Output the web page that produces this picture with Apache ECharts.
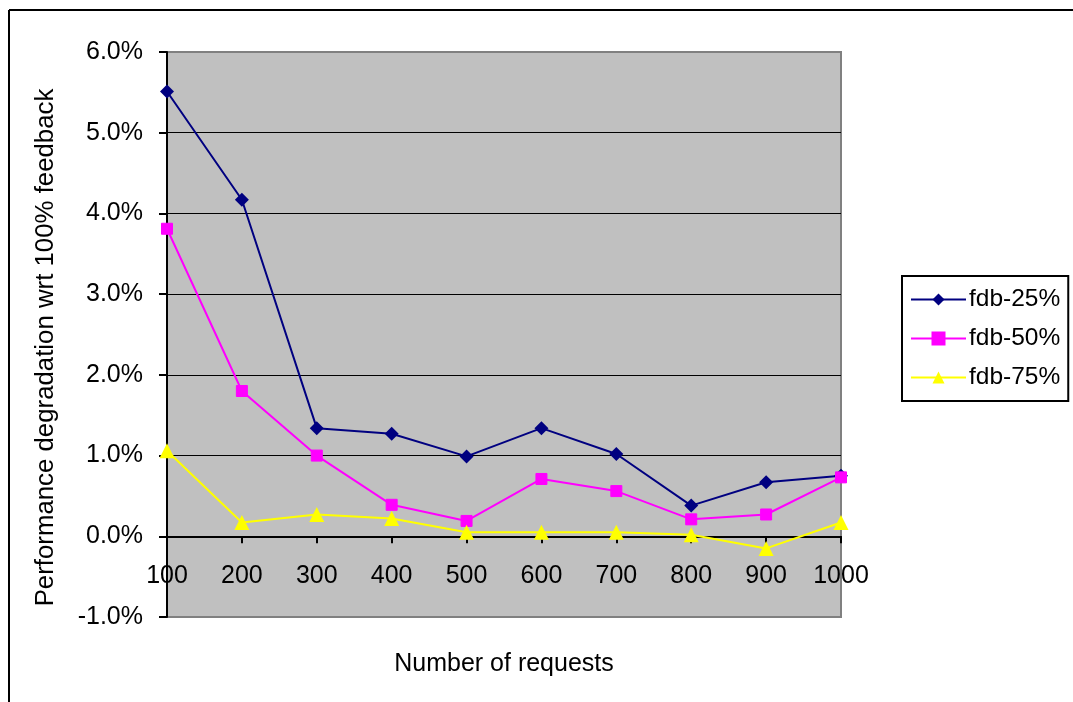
<!DOCTYPE html>
<html>
<head>
<meta charset="utf-8">
<script src="https://cdn.jsdelivr.net/npm/echarts@6/dist/echarts.min.js"></script>
<style>
  html, body { margin: 0; padding: 0; background: #fff; }
  #chart { width: 1073px; height: 702px; }
</style>
</head>
<body>
<div id="chart"></div>
<script>
// Number of requests (x categories)
const requests = ['100', '200', '300', '400', '500', '600', '700', '800', '900', '1000'];

// Performance degradation relative to 100% feedback, in percent
const fdb25 = [5.51, 4.17, 1.34, 1.27, 0.99, 1.34, 1.02, 0.38, 0.67, 0.75];
const fdb50 = [3.81, 1.80, 1.00, 0.39, 0.19, 0.71, 0.56, 0.21, 0.27, 0.73];
const fdb75 = [1.06, 0.17, 0.27, 0.22, 0.05, 0.05, 0.05, 0.02, -0.15, 0.17];

const seriesNames = ['fdb-25%', 'fdb-50%', 'fdb-75%'];
const yTitle = 'Performance degradation wrt 100% feedback';
const xTitle = 'Number of requests';

const FONT = 'Liberation Sans, Arial, sans-serif';

const chart = echarts.init(document.getElementById('chart'), null, { renderer: 'canvas' });

const option = {
  backgroundColor: '#ffffff',
  animation: false,
  textStyle: { fontFamily: FONT },
  graphic: [
    // frame around the chart area (top and left edges)
    { type: 'line', shape: { x1: 9, y1: 10, x2: 1073, y2: 10 }, style: { stroke: '#000', lineWidth: 2 } },
    { type: 'line', shape: { x1: 9, y1: 10, x2: 9, y2: 702 }, style: { stroke: '#000', lineWidth: 2 } }
  ],
  grid: {
    left: 167, top: 52, width: 674, height: 565,
    outerBoundsMode: 'none',
    containLabel: false,
    show: true,
    backgroundColor: '#C0C0C0',
    borderColor: '#808080',
    borderWidth: 2
  },
  legend: {
    orient: 'vertical',
    left: 902, top: 276,
    width: 167,
    padding: [11, 8, 11, 8],
    itemGap: 14,
    itemWidth: 55,
    itemHeight: 15,
    borderColor: '#000',
    borderWidth: 2,
    backgroundColor: '#fff',
    textStyle: { fontSize: 24.5, color: '#000', fontFamily: FONT, padding: [0, 0, 0, -2] },
    data: seriesNames
  },
  xAxis: {
    type: 'category',
    data: requests,
    boundaryGap: false,
    name: xTitle,
    nameLocation: 'middle',
    nameGap: 35,
    nameTextStyle: { fontSize: 25, color: '#000', fontFamily: FONT },
    axisLine: { onZero: true, lineStyle: { color: '#000', width: 2 } },
    axisTick: { show: true, inside: false, length: 7, interval: 0, lineStyle: { color: '#000', width: 2 } },
    // labels sit just under the zero line, inside the plot
    axisLabel: { interval: 0, margin: -53, fontSize: 25, color: '#000', fontFamily: FONT },
    splitLine: { show: false }
  },
  yAxis: {
    type: 'value',
    min: -1, max: 6, interval: 1,
    name: yTitle,
    nameLocation: 'middle',
    nameRotate: 90,
    nameGap: 108,
    // extra right padding nudges the rotated title a little lower
    nameTextStyle: { fontSize: 25.8, color: '#000', fontFamily: FONT, padding: [0, 26, 0, 0] },
    axisLine: { show: true, lineStyle: { color: '#000', width: 2 } },
    axisTick: { show: true, length: 8, lineStyle: { color: '#000', width: 2 } },
    axisLabel: {
      margin: 24, fontSize: 25, color: '#000', fontFamily: FONT,
      formatter: v => v.toFixed(1) + '%'
    },
    splitLine: {
      show: true,
      lineStyle: {
        color: ['#808080', '#000', '#000', '#000', '#000', '#000', '#000', '#808080'],
        width: 1
      }
    }
  },
  series: [
    {
      name: seriesNames[0], type: 'line', data: fdb25,
      symbol: 'diamond', symbolSize: 14,
      lineStyle: { color: '#000080', width: 2 },
      itemStyle: { color: '#000080' }
    },
    {
      name: seriesNames[1], type: 'line', data: fdb50,
      symbol: 'rect', symbolSize: 11,
      lineStyle: { color: '#FF00FF', width: 2 },
      itemStyle: { color: '#FF00FF', borderColor: '#FF00FF', borderWidth: 1 }
    },
    {
      name: seriesNames[2], type: 'line', data: fdb75,
      symbol: 'triangle', symbolSize: 15,
      lineStyle: { color: '#FFFF00', width: 2 },
      itemStyle: { color: '#FFFF00' }
    }
  ]
};

chart.setOption(option);
</script>
</body>
</html>
